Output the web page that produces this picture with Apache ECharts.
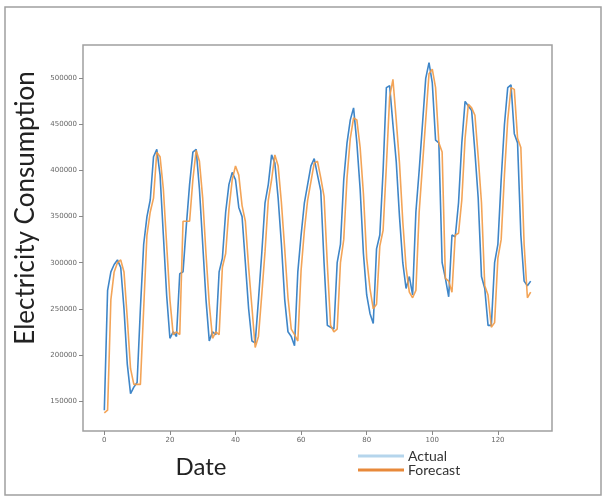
<!DOCTYPE html>
<html><head><meta charset="utf-8">
<script src="https://cdn.jsdelivr.net/npm/echarts@6/dist/echarts.min.js"></script>
<style>html,body{margin:0;padding:0;background:#fff}#c{width:603px;height:497px}</style>
</head><body><div id="c"></div>
<script>
const actual = [
140000,270000,290000,298000,303000,295000,250000,190000,158000,165000,
170000,250000,320000,350000,368000,415000,423000,395000,330000,265000,
218000,225000,220000,288000,290000,340000,385000,420000,423000,380000,
320000,260000,215000,225000,222000,290000,305000,355000,385000,398000,
390000,360000,350000,300000,250000,215000,213000,260000,310000,365000,
385000,417000,408000,370000,320000,260000,225000,220000,210000,290000,
330000,365000,385000,405000,413000,395000,378000,300000,232000,230000,
228000,300000,320000,390000,430000,455000,468000,430000,380000,310000,
265000,245000,234000,315000,330000,400000,490000,492000,450000,410000,
350000,300000,272000,285000,265000,355000,400000,450000,500000,517000,
495000,433000,430000,300000,283000,263000,330000,328000,365000,430000,
475000,470000,465000,420000,370000,285000,272000,232000,232000,300000,
320000,390000,450000,490000,493000,440000,430000,330000,280000,275000,
280000];
const forecast = [
137000,140000,260000,290000,300000,303000,290000,240000,185000,168000,
168000,168000,250000,330000,355000,370000,420000,415000,380000,320000,
260000,222000,225000,222000,345000,345000,345000,390000,422000,410000,
370000,310000,255000,218000,225000,222000,295000,310000,358000,390000,
405000,395000,362000,345000,295000,252000,208000,220000,265000,312000,
368000,390000,417000,405000,365000,315000,262000,228000,222000,215000,
292000,335000,368000,388000,408000,410000,392000,372000,298000,232000,
225000,228000,300000,325000,392000,435000,457000,455000,425000,375000,
305000,272000,250000,255000,318000,335000,405000,480000,499000,455000,
408000,345000,295000,268000,262000,270000,355000,405000,455000,505000,
510000,490000,430000,420000,283000,280000,268000,330000,332000,368000,
435000,472000,468000,460000,415000,365000,275000,265000,230000,235000,
305000,325000,395000,455000,490000,488000,435000,425000,320000,262000,
268000];
const xTicks = [0,20,40,60,80,100,120];
const yTicks = [150000,200000,250000,300000,350000,400000,450000,500000];
const seriesNames = ['Actual','Forecast'];
const yTitle = 'Electricity Consumption';
const xTitle = 'Date';

const chart = echarts.init(document.getElementById('c'), null, {renderer:'canvas'});
const pts = arr => arr.map((v,i)=>[i,v]);
const tickFont = {fontSize:7, color:'#666', fontFamily:'DejaVu Sans', formatter:v=>String(v)};
const option = {
  animation:false,
  backgroundColor:'#fff',
  grid:{left:83, top:45, width:469, height:386, show:true, borderColor:'#a0a0a0', borderWidth:1.5},
  xAxis:{type:'value', min:-6.5, max:136.5,
    axisLine:{show:false, onZero:false}, splitLine:{show:false},
    axisTick:{show:true, customValues:xTicks, length:4, lineStyle:{color:'#888'}},
    axisLabel:Object.assign({customValues:xTicks, margin:6}, tickFont)},
  yAxis:{type:'value', min:117400, max:536200,
    axisLine:{show:false, onZero:false}, splitLine:{show:false},
    axisTick:{show:true, customValues:yTicks, length:4, lineStyle:{color:'#888'}},
    axisLabel:Object.assign({customValues:yTicks, margin:6}, tickFont)},
  legend:{orient:'vertical', left:358, top:449, padding:0, itemGap:0,
    icon:'rect', itemWidth:46, itemHeight:3,
    textStyle:{fontSize:14, lineHeight:11, color:'#333', fontFamily:'Lato', padding:[0,0,0,-1]},
    data:[{name:seriesNames[0], itemStyle:{color:'#b5d5ec'}},
          {name:seriesNames[1], itemStyle:{color:'#e8893a'}}]},
  series:[
    {name:seriesNames[0], type:'line', data:pts(actual), showSymbol:false,
     lineStyle:{color:'#3f86c8', width:1.6}, itemStyle:{color:'#3f86c8'}},
    {name:seriesNames[1], type:'line', data:pts(forecast), showSymbol:false,
     lineStyle:{color:'#f29a45', width:1.6, opacity:0.9}, itemStyle:{color:'#f29a45'}}
  ],
  graphic:[
    {type:'rect', silent:true, shape:{x:5, y:7, width:596, height:488},
     style:{fill:'none', stroke:'#a0a0a0', lineWidth:1.5}},
    {type:'text', x:26, y:208, rotation:Math.PI/2,
     style:{text:yTitle, fontSize:26, fontFamily:'Lato', fill:'#222', align:'center', verticalAlign:'middle'}},
    {type:'text', x:201, y:467,
     style:{text:xTitle, fontSize:24, fontFamily:'Lato', fill:'#222', align:'center', verticalAlign:'middle'}}
  ]
};
chart.setOption(option);
</script></body></html>
